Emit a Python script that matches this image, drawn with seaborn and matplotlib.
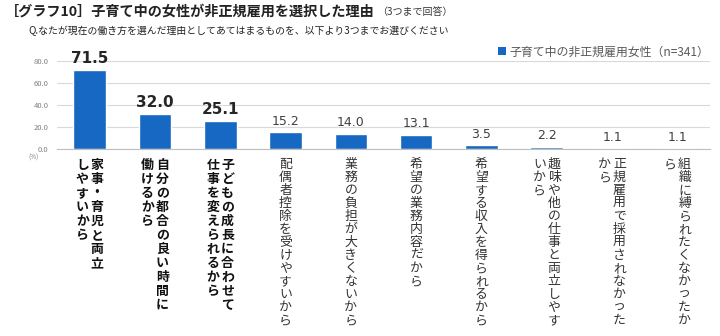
import matplotlib
matplotlib.use("Agg")
import matplotlib.pyplot as plt
import seaborn as sns
import pandas as pd
from matplotlib.patches import Patch

sns.set_theme(style="white")
plt.rcParams['font.family'] = ['Noto Sans CJK JP', 'DejaVu Sans']

categories = ["家事・育児と両立しやすいから", "自分の都合の良い時間に働けるから",
              "子どもの成長に合わせて仕事を変えられるから", "配偶者控除を受けやすいから",
              "業務の負担が大きくないから", "希望の業務内容だから", "希望する収入を得られるから",
              "趣味や他の仕事と両立しやすいから", "正規雇用で採用されなかったから",
              "組織に縛られたくなかったから"]
label_columns = [["家事・育児と両立", "しやすいから"],
                 ["自分の都合の良い時間に", "働けるから"],
                 ["子どもの成長に合わせて", "仕事を変えられるから"],
                 ["配偶者控除を受けやすいから"],
                 ["業務の負担が大きくないから"],
                 ["希望の業務内容だから"],
                 ["希望する収入を得られるから"],
                 ["趣味や他の仕事と両立しやす", "いから"],
                 ["正規雇用で採用されなかった", "から"],
                 ["組織に縛られたくなかったか", "ら"]]
values = [71.5, 32.0, 25.1, 15.2, 14.0, 13.1, 3.5, 2.2, 1.1, 1.1]
series_name = "子育て中の非正規雇用女性（n=341）"
yticks = [0, 20, 40, 60, 80]
title = "［グラフ10］子育て中の女性が非正規雇用を選択した理由"
title_note = "（3つまで回答）"
subtitle = "Q.なたが現在の働き方を選んだ理由としてあてはまるものを、以下より3つまでお選びください"

bar_color = "#1668c2"
df = pd.DataFrame({"cat": categories, "val": values, "series": series_name})

fig = plt.figure(figsize=(7.2, 3.36), dpi=100)
ax = fig.add_axes([57/720, 1-149/336, (710-57)/720, (149-60.7)/336])
sns.barplot(data=df, x="cat", y="val", color=bar_color, width=0.5, ax=ax, saturation=1)

ax.set_ylim(0, 80)
ax.set_xlim(-0.5, len(categories)-0.5)
ax.set_yticks(yticks)
ax.set_yticklabels([f"{v:.1f}" for v in yticks], fontsize=5.5, color="#808080")
ax.yaxis.grid(True, color="#d9d9d9", linewidth=0.8)
ax.set_axisbelow(True)
for s in ["top", "right", "left"]:
    ax.spines[s].set_visible(False)
ax.spines["bottom"].set_color("#bfbfbf")
ax.spines["bottom"].set_linewidth(0.8)
ax.tick_params(axis="y", length=0, pad=6)
ax.set_xticks([i - 0.5 for i in range(len(categories)+1)])
ax.set_xticklabels([])
ax.tick_params(axis="x", length=4, color="#bfbfbf", width=0.8, direction="out")
ax.set_xlabel("")
ax.set_ylabel("")

# value labels
for i, v in enumerate(values):
    bold = i < 3
    ax.annotate(f"{v:.1f}", xy=(i, v), xytext=(0, 3), textcoords="offset points",
                ha="center", va="bottom",
                fontsize=11 if bold else 9,
                fontweight="bold" if bold else "normal",
                color="#262626" if bold else "#404040",
                family=["DejaVu Sans"])

# vertical category labels
col_sp = 10.5  # points
for i, cols in enumerate(label_columns):
    n = len(cols)
    bold = i < 3
    for j, col in enumerate(cols):
        dx = ((n - 1) / 2 - j) * col_sp
        ax.annotate("\n".join(col), xy=(i, 0), xycoords=("data", "axes fraction"),
                    xytext=(dx, -6.5), textcoords="offset points",
                    ha="center", va="top", fontsize=9.3, linespacing=1.0,
                    fontweight="bold" if bold else "normal",
                    color="#111111" if bold else "#333333")

fig.text(28/720, 1-158/336, "(%)", fontsize=4.5, color="#808080", ha="left", va="center")

# titles
fig.text(5/720, 1-12/336, title, fontsize=10.2, fontweight="bold", color="#222222",
         ha="left", va="center")
fig.text(377/720, 1-12/336, title_note, fontsize=7.2, color="#333333", ha="left", va="center")
fig.text(28/720, 1-31/336, subtitle, fontsize=7.1, color="#222222", ha="left", va="center")

handles = [Patch(facecolor=bar_color, edgecolor="none")]
ax.legend(handles, [series_name], loc="center right", bbox_to_anchor=(1.015, 1.1),
          frameon=False, fontsize=8.6, handlelength=0.6, handleheight=0.6,
          handletextpad=0.3, labelcolor="#595959")

fig.savefig("out.png", dpi=100)
